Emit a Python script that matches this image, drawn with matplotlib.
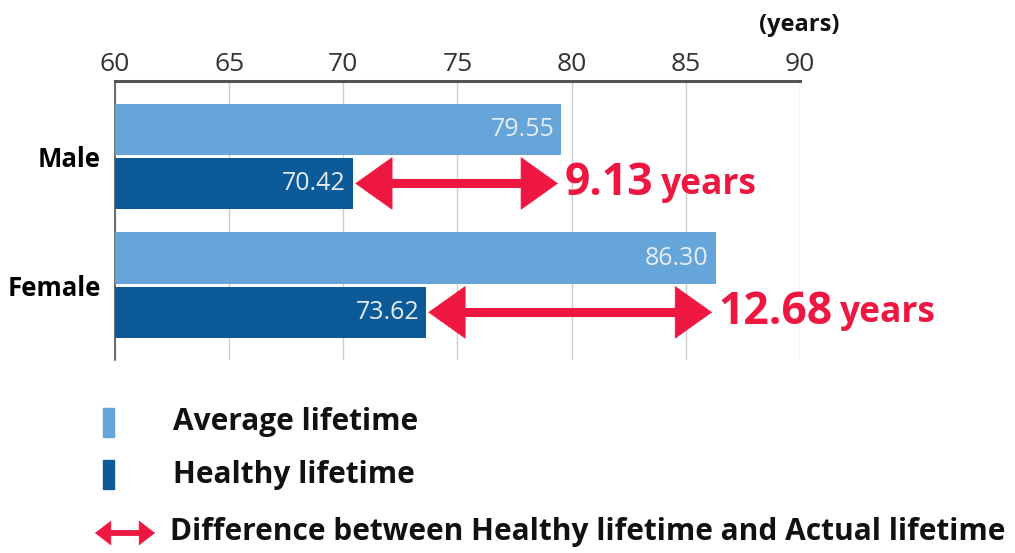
import matplotlib
matplotlib.use("Agg")
import matplotlib.pyplot as plt
from matplotlib.patches import Rectangle, FancyArrowPatch
from matplotlib.lines import Line2D

categories = ["Male", "Female"]
average_lifetime = [79.55, 86.30]
healthy_lifetime = [70.42, 73.62]
difference_labels = ["9.13", "12.68"]
xticks = [60, 65, 70, 75, 80, 85, 90]
legend_labels = ["Average lifetime", "Healthy lifetime",
                 "Difference between Healthy lifetime and Actual lifetime"]

LIGHT = "#65A5DA"
DARK = "#0D5A98"
RED = "#EE1742"
FONT = "Open Sans"

fig = plt.figure(figsize=(10.15, 5.53), dpi=100)
W, H = 1015, 553
ax = fig.add_axes([115 / W, 1 - 360 / H, 685 / W, (360 - 81) / H])

ys = list(range(len(categories)))
off = 0.21
bh = 0.40
ax.barh([y - off for y in ys], average_lifetime, height=bh, color=LIGHT, left=0, zorder=3)
ax.barh([y + off for y in ys], healthy_lifetime, height=bh, color=DARK, left=0, zorder=3)

ax.set_xlim(60, 90)
ax.set_ylim(1.58, -0.585)
ax.set_xticks(xticks)
ax.set_xticklabels([str(t) for t in xticks])
ax.xaxis.tick_top()
ax.tick_params(axis="x", length=0, pad=3, labelsize=19, colors="#333333")
ax.set_yticks(ys)
ax.set_yticklabels(categories, fontsize=18.5, fontweight="bold", family=FONT)
ax.tick_params(axis="y", length=0, pad=10)
for lab in ax.get_xticklabels():
    lab.set_family(FONT)
ax.grid(axis="x", color="#CCCCCC", lw=1, zorder=0)
for s in ["right", "bottom"]:
    ax.spines[s].set_visible(False)
ax.spines["top"].set_color("#555555")
ax.spines["top"].set_linewidth(2.2)
ax.spines["left"].set_color("#555555")
ax.spines["left"].set_linewidth(1.2)

for y, a, h, d in zip(ys, average_lifetime, healthy_lifetime, difference_labels):
    ax.text(a - 0.3, y - off, f"{a:.2f}", ha="right", va="center",
            color="#E4ECF5", fontsize=18, family=FONT, zorder=4)
    ax.text(h - 0.3, y + off, f"{h:.2f}", ha="right", va="center",
            color="#E4ECF5", fontsize=18, family=FONT, zorder=4)
    x0, x1 = h + 0.1, a - 0.15
    ax.plot([x0 + 0.8, x1 - 0.8], [y + off, y + off], color=RED, lw=6.5,
            solid_capstyle="butt", zorder=5, clip_on=False)
    arr = FancyArrowPatch((x0, y + off), (x1, y + off),
                          arrowstyle="<|-|>,head_length=26,head_width=18.5",
                          mutation_scale=1, lw=0.6, color=RED,
                          shrinkA=0, shrinkB=0, zorder=6, clip_on=False)
    ax.add_patch(arr)
    t = ax.annotate(d, (a, y + off), xytext=(2, 0), textcoords="offset points",
                    ha="left", va="center", color=RED, fontsize=32,
                    fontweight="bold", family=FONT, annotation_clip=False)
    fig.canvas.draw()
    bb = t.get_window_extent()
    fig.text((bb.x1 + 8) / W, (bb.y0 + bb.y1) / 2 / H - 0.002, "years",
             ha="left", va="center", color=RED, fontsize=25.5,
             fontweight="bold", family=FONT)

fig.text(840 / W, 1 - 25 / H, "(years)", ha="right", va="center",
         fontsize=17, fontweight="bold", family=FONT, color="#111111")

# legend
fig.patches.append(Rectangle((103 / W, 1 - 437 / H), 11 / W, 29 / H,
                             transform=fig.transFigure, color=LIGHT, figure=fig))
fig.patches.append(Rectangle((103 / W, 1 - 489 / H), 11 / W, 29 / H,
                             transform=fig.transFigure, color=DARK, figure=fig))
fig.text(173 / W, 1 - 422 / H, legend_labels[0], ha="left", va="center",
         fontsize=21.5, fontweight="bold", family=FONT, color="#111111")
fig.text(173 / W, 1 - 475 / H, legend_labels[1], ha="left", va="center",
         fontsize=21.5, fontweight="bold", family=FONT, color="#111111")
fig.lines.append(Line2D([105 / W, 145 / W], [1 - 533 / H, 1 - 533 / H],
                        transform=fig.transFigure, color=RED, lw=4.2,
                        solid_capstyle="butt", figure=fig))
leg_arr = FancyArrowPatch((95 / W, 1 - 533 / H), (155 / W, 1 - 533 / H),
                          transform=fig.transFigure,
                          arrowstyle="<|-|>,head_length=11,head_width=8.5",
                          mutation_scale=1, lw=0.5, color=RED,
                          shrinkA=0, shrinkB=0)
fig.patches.append(leg_arr)
fig.text(170 / W, 1 - 532 / H, legend_labels[2], ha="left", va="center",
         fontsize=21.5, fontweight="bold", family=FONT, color="#111111")

fig.savefig("out.png", dpi=100)
